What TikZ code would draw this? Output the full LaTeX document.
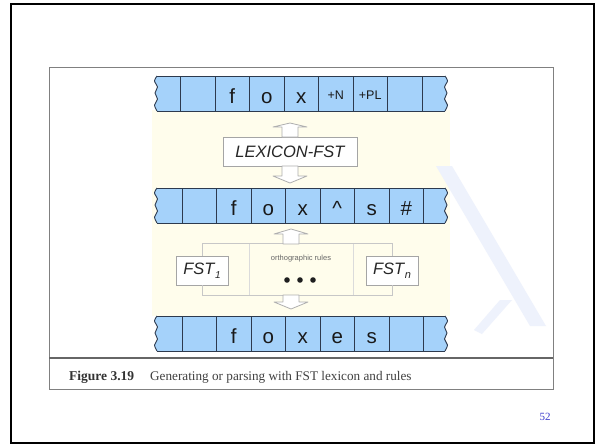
\documentclass[tikz,border=0pt]{standalone}
\usepackage{fontspec}
\setmainfont{Liberation Serif}
\setsansfont{Liberation Sans}
\definecolor{tapeblue}{RGB}{165,210,250}
\definecolor{tapeline}{RGB}{45,58,78}
\definecolor{cream}{RGB}{255,253,236}
\definecolor{boxgray}{RGB}{165,165,165}
\definecolor{arrowgray}{RGB}{175,175,175}
\definecolor{wmblue}{RGB}{238,242,252}
\definecolor{pageblue}{RGB}{60,60,205}
\tikzset{
  cell/.style={draw=tapeline, line width=0.9pt, minimum width=34.5pt, minimum height=35pt,
    inner sep=0pt, anchor=west, text height=19pt, text depth=0pt,
    font=\sffamily\fontsize{20.5}{20.5}\selectfont, text=black!90},
  tapeedge/.style={draw=tapeline, line width=0.9pt},
  fstbox/.style={draw=boxgray, fill=white, line width=0.8pt, inner sep=0pt,
    font=\sffamily\itshape\fontsize{16.5}{16.5}\selectfont, text=black!85},
  bracketline/.style={draw=black!22, line width=0.8pt},
  bracketlight/.style={draw=black!14, line width=0.7pt},
  blockarrow/.style={draw=arrowgray, fill=white, line width=0.8pt, line join=round},
}
\newcommand{\smallcell}[1]{\raisebox{4pt}{\fontsize{12.5}{12.5}\selectfont #1}}
% #1 top y, #2 first divider x, #3 prefix, #4 seven cell texts
\newcommand{\drawtape}[4]{%
  \fill[tapeblue] plot[smooth] coordinates {(157,#1) (154.5,#1+5) (157.5,#1+11) (155,#1+17) (157.5,#1+23) (154.5,#1+29) (157,#1+35)}
    -- plot[smooth] coordinates {(445,#1+35) (447.5,#1+29) (444.5,#1+23) (447,#1+17) (444.5,#1+11) (447.5,#1+5) (445,#1)} -- cycle;
  \draw[tapeedge] plot[smooth] coordinates {(157,#1) (154.5,#1+5) (157.5,#1+11) (155,#1+17) (157.5,#1+23) (154.5,#1+29) (157,#1+35)};
  \draw[tapeedge] plot[smooth] coordinates {(445,#1+35) (447.5,#1+29) (444.5,#1+23) (447,#1+17) (444.5,#1+11) (447.5,#1+5) (445,#1)};
  \draw[tapeedge] (157,#1) -- (445,#1);
  \draw[tapeedge] (157,#1+35) -- (445,#1+35);
  \foreach \t [count=\k from 0] in {#4} {
    \node[cell] (#3-\k) at ({#2+34.5*\k}, #1+17.5) {\t};
  }%
}
% #1 centre x, #2 tip y, #3 head base y, #4 tail y
\newcommand{\blockarrow}[4]{%
  \draw[blockarrow] (#1-17,#3) -- (#1,#2) -- (#1+17,#3) -- (#1+8,#3) -- (#1+8,#4) -- (#1-8,#4) -- (#1-8,#3) -- cycle;
}
\begin{document}
\begin{tikzpicture}[x=1pt,y=-1pt]
\useasboundingbox (0,0) rectangle (600,445);
\fill[white] (0,0) rectangle (600,445);
% slide frame
\draw[line width=2.2pt] (11,4) rectangle (594,443);
% figure frame
\draw[gray, line width=1pt] (49,67) rectangle (553,389);
\draw[black!60, line width=2.5pt] (49,358) -- (553,358);
% diagram background
\fill[cream] (152,110) rectangle (450,316);
% watermark
\fill[wmblue] (436,166) -- (452,166) -- (546,326) -- (530,326) -- cycle;
\fill[wmblue] (500,300) -- (512,300) -- (482,334) -- (474,330) -- cycle;
% tapes
\drawtape{76}{180}{ta}{{},f,o,x,\smallcell{+N},\smallcell{+PL},{}}
\drawtape{188}{181.5}{tb}{{},f,o,x,\textasciicircum,s,\#}
\drawtape{316}{181.5}{tc}{{},f,o,x,e,s,{}}
% lexicon box
\node[fstbox, minimum width=134pt, minimum height=29pt] (lex) at (290,151.5) {LEXICON-FST};
% orthographic rule boxes
\node[fstbox, minimum width=52pt, minimum height=29pt] (fst1) at (202,270.5)
  {FST\kern0.5pt\raisebox{-3.5pt}{\fontsize{10}{10}\selectfont 1}};
\node[fstbox, minimum width=52pt, minimum height=29pt] (fstn) at (392,270.5)
  {FST\kern0.5pt\raisebox{-3.5pt}{\fontsize{11}{11}\selectfont n}};
\draw[bracketline] (fst1.north) -- ++(0,-12) -| (fstn.north);
\draw[bracketline] (fst1.south) -- ++(0,10) -| (fstn.south);
\draw[bracketlight] (249,244) -- (249,295);
\draw[bracketlight] (353,244) -- (353,295);
\node[font=\sffamily\fontsize{7.5}{7.5}\selectfont, text=black!60] (ortho) at (301,259) {orthographic rules};
\foreach \x in {287,300,313} \fill[black!88] (\x,280) circle (2.8);
% block arrows
\blockarrow{290}{123}{127}{137}
\blockarrow{290}{183}{176}{166}
\blockarrow{291}{229}{234}{244}
\blockarrow{291}{309}{302}{295}
% caption
\node[anchor=base west, inner sep=0pt, font=\bfseries\fontsize{13.5}{13.5}\selectfont, text=black!80] (figlabel) at (69,380) {Figure 3.19};
\node[anchor=base west, inner sep=0pt, font=\fontsize{13.2}{13.2}\selectfont, text=black!75] (captext) at (150,380) {Generating or parsing with FST lexicon and rules};
% page number
\node[font=\fontsize{11}{11}\selectfont, text=pageblue] (pagenum) at (545,417) {52};
\end{tikzpicture}
\end{document}
